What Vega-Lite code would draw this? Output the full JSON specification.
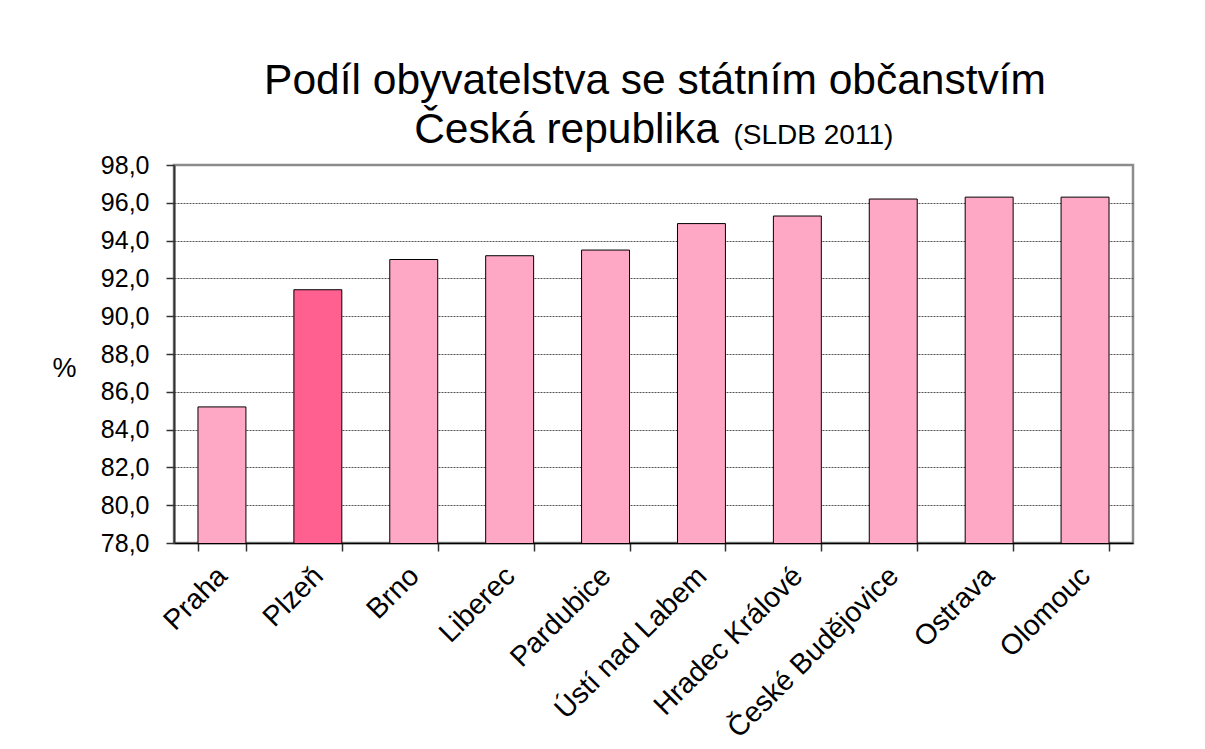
{
  "$schema": "https://vega.github.io/schema/vega-lite/v6.json",
  "width": 959,
  "height": 378,
  "autosize": "none",
  "padding": {"left": 174, "top": 165, "right": 72, "bottom": 206},
  "background": "white",
  "title": {
    "text": "\u200b\u00a0\u00a0\u00a0\u00a0\u00a0\u00a0\u00a0\u00a0\u00a0\u00a0\u00a0\u00a0\u00a0\u00a0\u00a0Podíl obyvatelstva se státním občanstvím",
    "subtitle": "Česká republika",
    "font": "Liberation Sans",
    "fontSize": 42.5,
    "fontWeight": "normal",
    "color": "black",
    "subtitleFont": "Liberation Sans",
    "subtitleFontSize": 42.5,
    "subtitleColor": "black",
    "subtitlePadding": 6,
    "anchor": "middle",
    "frame": "group",
    "dx": -87,
    "offset": -30
  },
  "data": {
    "values": [
      {"mesto": "Praha", "podil": 85.2, "typ": "ostatni"},
      {"mesto": "Plzeň", "podil": 91.4, "typ": "plzen"},
      {"mesto": "Brno", "podil": 93.0, "typ": "ostatni"},
      {"mesto": "Liberec", "podil": 93.2, "typ": "ostatni"},
      {"mesto": "Pardubice", "podil": 93.5, "typ": "ostatni"},
      {"mesto": "Ústí nad Labem", "podil": 94.9, "typ": "ostatni"},
      {"mesto": "Hradec Králové", "podil": 95.3, "typ": "ostatni"},
      {"mesto": "České Budějovice", "podil": 96.2, "typ": "ostatni"},
      {"mesto": "Ostrava", "podil": 96.3, "typ": "ostatni"},
      {"mesto": "Olomouc", "podil": 96.3, "typ": "ostatni"}
    ]
  },
  "mark": {"type": "bar", "stroke": "black", "strokeWidth": 1, "clip": true},
  "encoding": {
    "x": {
      "field": "mesto",
      "type": "nominal",
      "sort": null,
      "scale": {"paddingInner": 0.5, "paddingOuter": 0.25},
      "axis": {
        "title": "(SLDB 2011)",
        "titleFont": "Liberation Sans",
        "titleFontSize": 28,
        "titleFontWeight": "normal",
        "titleColor": "black",
        "titleX": 559,
        "titleY": -400,
        "titleAlign": "left",
        "titleBaseline": "alphabetic",
        "titleAngle": 0,
        "labelAngle": -45,
        "labelAlign": "right",
        "labelBaseline": "middle",
        "labelFont": "Liberation Sans",
        "labelFontSize": 28.5,
        "labelColor": "black",
        "labelPadding": 20,
        "labelLimit": 400,
        "tickBand": "extent",
        "tickSize": 8,
        "tickColor": "#333",
        "tickWidth": 1.5,
        "domainColor": "black",
        "domainWidth": 1.5,
        "grid": false
      }
    },
    "y": {
      "field": "podil",
      "type": "quantitative",
      "scale": {"domain": [78, 98], "zero": false, "nice": false},
      "axis": {
        "values": [78, 80, 82, 84, 86, 88, 90, 92, 94, 96, 98],
        "labelExpr": "replace(format(datum.value, '.1f'), '.', ',')",
        "labelFont": "Liberation Sans",
        "labelFontSize": 25,
        "labelColor": "black",
        "labelPadding": 17,
        "tickSize": 8,
        "tickColor": "#333",
        "tickWidth": 1.5,
        "domainColor": "#333",
        "domainWidth": 2,
        "grid": true,
        "gridColor": "#555",
        "gridDash": [2, 1],
        "gridWidth": 1,
        "gridOpacity": {"condition": {"test": "datum.value == 98 || datum.value == 78", "value": 0}, "value": 1},
        "title": "%",
        "titleFont": "Liberation Sans",
        "titleFontSize": 27,
        "titleFontWeight": "normal",
        "titleColor": "black",
        "titleAngle": 0,
        "titleAlign": "center",
        "titleBaseline": "middle",
        "titleX": -110,
        "titleY": 203
      }
    },
    "color": {
      "field": "typ",
      "type": "nominal",
      "scale": {"domain": ["ostatni", "plzen"], "range": ["#FFA8C6", "#FF6090"]},
      "legend": null
    }
  },
  "config": {
    "view": {"stroke": "#8c8c8c", "strokeWidth": 2.5},
    "font": "Liberation Sans"
  }
}
